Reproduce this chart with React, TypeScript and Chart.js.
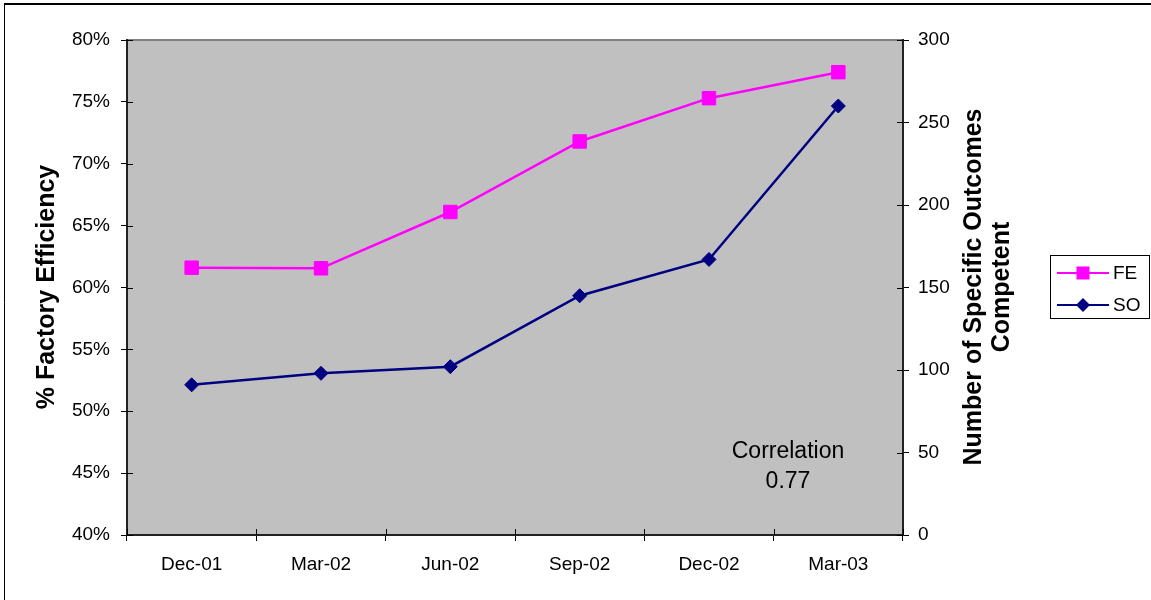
import React, { useEffect, useRef } from 'react';
import { Chart, registerables } from 'chart.js';

Chart.register(...registerables);

const categories = ['Dec-01', 'Mar-02', 'Jun-02', 'Sep-02', 'Dec-02', 'Mar-03'];
const feValues = [61.6, 61.55, 66.1, 71.8, 75.3, 77.4];
const soValues = [91, 98, 102, 145, 167, 260];
const leftTicks = { min: 40, max: 80, step: 5 };
const rightTicks = { min: 0, max: 300, step: 50 };
const leftTitle = '% Factory Efficiency';
const rightTitleLines = ['Number of Specific Outcomes', 'Competent'];
const correlationLines = ['Correlation', '0.77'];
const legendLabels = ['FE', 'SO'];

const FONT = '"Liberation Sans", Arial, Helvetica, sans-serif';
const FE_COLOR = '#FF00FF';
const SO_COLOR = '#000080';

function drawSquare(ctx: CanvasRenderingContext2D, x: number, y: number, s: number, c: string) {
  ctx.fillStyle = c;
  ctx.fillRect(x - s / 2, y - s / 2, s, s);
}
function drawDiamond(ctx: CanvasRenderingContext2D, x: number, y: number, r: number, c: string) {
  ctx.fillStyle = c;
  ctx.beginPath();
  ctx.moveTo(x, y - r);
  ctx.lineTo(x + r, y);
  ctx.lineTo(x, y + r);
  ctx.lineTo(x - r, y);
  ctx.closePath();
  ctx.fill();
}

const decor = {
  id: 'decor',
  beforeDraw(chart: any) {
    const { ctx, chartArea: a } = chart;
    ctx.save();
    ctx.fillStyle = '#fff';
    ctx.fillRect(0, 0, chart.width, chart.height);
    ctx.fillStyle = '#C0C0C0';
    ctx.fillRect(a.left, a.top, a.right - a.left, a.bottom - a.top);
    // outer frame
    ctx.strokeStyle = '#000';
    ctx.lineWidth = 1;
    ctx.beginPath();
    ctx.moveTo(4.5, chart.height);
    ctx.lineTo(4.5, 4.5);
    ctx.stroke();
    ctx.lineWidth = 2;
    ctx.beginPath();
    ctx.moveTo(4, 4);
    ctx.lineTo(chart.width, 4);
    ctx.stroke();
    // plot top border
    ctx.strokeStyle = '#808080';
    ctx.lineWidth = 2;
    ctx.beginPath();
    ctx.moveTo(a.left, a.top);
    ctx.lineTo(a.right, a.top);
    ctx.stroke();
    ctx.restore();
  },
  beforeDatasetsDraw(chart: any) {
    const { ctx, chartArea: a, scales } = chart;
    ctx.save();
    ctx.strokeStyle = '#000';
    ctx.lineWidth = 1;
    ctx.beginPath();
    const n = categories.length;
    for (let i = 0; i <= n; i++) {
      const x = Math.round(a.left + (i * (a.right - a.left)) / n) + 0.5;
      ctx.moveTo(x, a.bottom);
      ctx.lineTo(x, a.bottom - 6);
    }
    for (let v = leftTicks.min; v <= leftTicks.max; v += leftTicks.step) {
      const y = Math.round(scales.y.getPixelForValue(v)) + 0.5;
      ctx.moveTo(a.left, y);
      ctx.lineTo(a.left + 6, y);
    }
    for (let v = rightTicks.min; v <= rightTicks.max; v += rightTicks.step) {
      const y = Math.round(scales.y1.getPixelForValue(v)) + 0.5;
      ctx.moveTo(a.right, y);
      ctx.lineTo(a.right - 6, y);
    }
    ctx.stroke();
    ctx.restore();
  },
  afterDraw(chart: any) {
    const { ctx } = chart;
    ctx.save();
    ctx.fillStyle = '#000';
    ctx.textAlign = 'center';
    ctx.textBaseline = 'middle';
    // left title
    ctx.font = 'bold 25px ' + FONT;
    ctx.save();
    ctx.translate(47, 287);
    ctx.rotate(-Math.PI / 2);
    ctx.fillText(leftTitle, 0, 0);
    ctx.restore();
    // right title
    ctx.save();
    ctx.translate(988, 287);
    ctx.rotate(-Math.PI / 2);
    ctx.fillText(rightTitleLines[0], 0, -14);
    ctx.fillText(rightTitleLines[1], 0, 14);
    ctx.restore();
    // correlation
    ctx.font = '23px ' + FONT;
    ctx.fillText(correlationLines[0], 788, 452);
    ctx.fillText(correlationLines[1], 788, 482);
    // legend
    ctx.strokeStyle = '#000';
    ctx.lineWidth = 1;
    ctx.fillStyle = '#fff';
    ctx.fillRect(1050.5, 255.5, 99, 63);
    ctx.strokeRect(1050.5, 255.5, 99, 63);
    const rows = [
      { y: 273, color: FE_COLOR, label: legendLabels[0], shape: 'sq' },
      { y: 305, color: SO_COLOR, label: legendLabels[1], shape: 'dm' },
    ];
    for (const r of rows) {
      ctx.strokeStyle = r.color;
      ctx.lineWidth = 2;
      ctx.beginPath();
      ctx.moveTo(1057, r.y);
      ctx.lineTo(1109, r.y);
      ctx.stroke();
      if (r.shape === 'sq') drawSquare(ctx, 1083, r.y, 13, r.color);
      else drawDiamond(ctx, 1083, r.y, 7, r.color);
      ctx.fillStyle = '#000';
      ctx.font = '19px ' + FONT;
      ctx.textAlign = 'left';
      ctx.fillText(r.label, 1113, r.y + 1);
    }
    ctx.restore();
  },
};

export default function App() {
  const ref = useRef<HTMLCanvasElement>(null);
  useEffect(() => {
    if (!ref.current) return;
    Chart.defaults.font.family = FONT;
    const chart = new Chart(ref.current, {
      type: 'line',
      data: {
        labels: categories,
        datasets: [
          {
            label: legendLabels[0],
            data: feValues,
            yAxisID: 'y',
            borderColor: FE_COLOR,
            backgroundColor: FE_COLOR,
            borderWidth: 2.5,
            pointStyle: 'rect',
            pointRadius: 9.5,
            pointBorderWidth: 1,
            pointBackgroundColor: FE_COLOR,
            pointBorderColor: FE_COLOR,
            tension: 0,
          },
          {
            label: legendLabels[1],
            data: soValues,
            yAxisID: 'y1',
            borderColor: SO_COLOR,
            backgroundColor: SO_COLOR,
            borderWidth: 2.5,
            pointStyle: 'rectRot',
            pointRadius: 7,
            pointBorderWidth: 1,
            pointBackgroundColor: SO_COLOR,
            pointBorderColor: SO_COLOR,
            tension: 0,
          },
        ],
      },
      options: {
        responsive: false,
        animation: false,
        layout: { padding: { top: 40, left: 0, right: 0, bottom: 0 } },
        plugins: { legend: { display: false }, tooltip: { enabled: false } },
        scales: {
          x: {
            type: 'category',
            offset: true,
            grid: { offset: true, drawOnChartArea: false, drawTicks: true, tickLength: 6, color: '#000' },
            border: { display: true, color: '#222', width: 2 },
            ticks: { color: '#000', font: { size: 19, family: FONT }, padding: 12, maxRotation: 0, autoSkip: false },
            afterFit: (s: any) => { s.height = 65; },
          },
          y: {
            position: 'left',
            min: leftTicks.min,
            max: leftTicks.max,
            grid: { drawOnChartArea: false, drawTicks: true, tickLength: 6, color: '#000' },
            border: { display: true, color: '#222', width: 2 },
            ticks: {
              stepSize: leftTicks.step,
              color: '#000',
              font: { size: 19, family: FONT },
              padding: 11,
              callback: (v: any) => v + '%',
            },
            afterFit: (s: any) => { s.width = 127; },
          },
          y1: {
            position: 'right',
            min: rightTicks.min,
            max: rightTicks.max,
            grid: { drawOnChartArea: false, drawTicks: true, tickLength: 6, color: '#000' },
            border: { display: true, color: '#222', width: 2 },
            ticks: { stepSize: rightTicks.step, color: '#000', font: { size: 19, family: FONT }, padding: 9 },
            afterFit: (s: any) => { s.width = 248; },
          },
        },
      },
      plugins: [decor],
    });
    return () => chart.destroy();
  }, []);
  return (
    <div style={{ position: 'absolute', left: 0, top: 0, width: 1151, height: 600, background: '#fff' }}>
      <canvas ref={ref} width={1151} height={600} style={{ display: 'block', width: 1151, height: 600 }} />
    </div>
  );
}
